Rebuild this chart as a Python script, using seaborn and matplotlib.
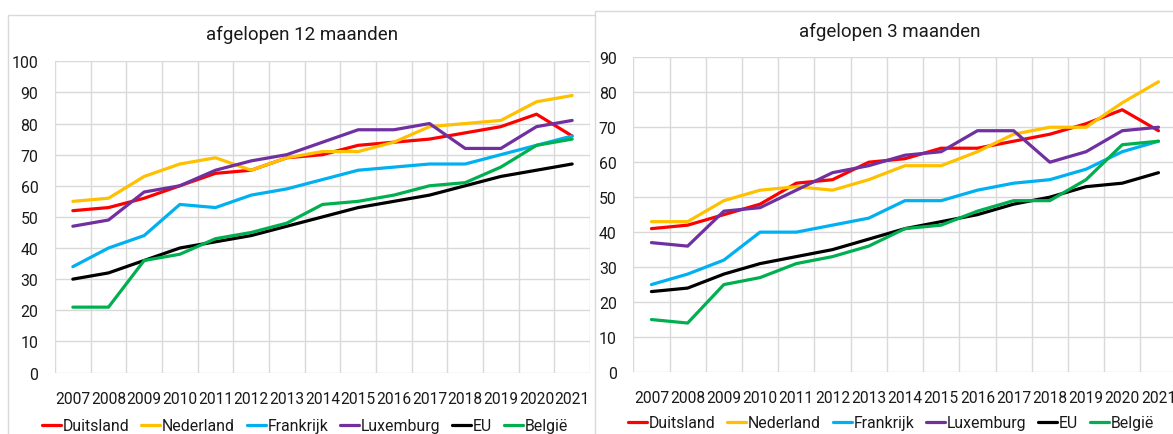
import numpy as np
import pandas as pd
import matplotlib.pyplot as plt
import seaborn as sns
from matplotlib.patches import Rectangle

years = ['2007', '2008', '2009', '2010', '2011', '2012', '2013', '2014',
         '2015', '2016', '2017', '2018', '2019', '2020', '2021']
countries = ['Duitsland', 'Nederland', 'Frankrijk', 'Luxemburg', 'EU', 'België']
colors = ['#FF0000', '#FFC000', '#00B0F0', '#7030A0', '#000000', '#00B050']

# afgelopen 12 maanden
duitsland_12 = [52, 53, 56, 60, 64, 65, 69, 70, 73, 74, 75, 77, 79, 83, 76]
nederland_12 = [55, 56, 63, 67, 69, 65, 69, 71, 71, 74, 79, 80, 81, 87, 89]
frankrijk_12 = [34, 40, 44, 54, 53, 57, 59, 62, 65, 66, 67, 67, 70, 73, 76]
luxemburg_12 = [47, 49, 58, 60, 65, 68, 70, 74, 78, 78, 80, 72, 72, 79, 81]
eu_12 = [30, 32, 36, 40, 42, 44, 47, 50, 53, 55, 57, 60, 63, 65, 67]
belgie_12 = [21, 21, 36, 38, 43, 45, 48, 54, 55, 57, 60, 61, 66, 73, 75]

# afgelopen 3 maanden
duitsland_3 = [41, 42, 45, 48, 54, 55, 60, 61, 64, 64, 66, 68, 71, 75, 69]
nederland_3 = [43, 43, 49, 52, 53, 52, 55, 59, 59, 63, 68, 70, 70, 77, 83]
frankrijk_3 = [25, 28, 32, 40, 40, 42, 44, 49, 49, 52, 54, 55, 58, 63, 66]
luxemburg_3 = [37, 36, 46, 47, 52, 57, 59, 62, 63, 69, 69, 60, 63, 69, 70]
eu_3 = [23, 24, 28, 31, 33, 35, 38, 41, 43, 45, 48, 50, 53, 54, 57]
belgie_3 = [15, 14, 25, 27, 31, 33, 36, 41, 42, 46, 49, 49, 55, 65, 66]

sns.set_theme(style='white')
plt.rcParams['font.family'] = ['Roboto', 'DejaVu Sans']

W, H = 1173, 435
fig = plt.figure(figsize=(W / 100, H / 100), dpi=100)
txt = '#1a1a1a'
grid = '#d9d9d9'

# chart area borders
fig.add_artist(Rectangle((7.7 / W, -0.1), (597 - 7.7) / W, 1.1 - 15.7 / H,
                         transform=fig.transFigure, fill=False, ec=grid, lw=1, zorder=-2))
fig.add_artist(Rectangle((594.5 / W, -0.1), 0.6, 1.1 - 12 / H,
                         transform=fig.transFigure, fc='white', ec=grid, lw=1, zorder=-1))


def draw(rect, series, ymax, title, title_xy, legend_xy):
    ax = fig.add_axes(rect)
    ax.set_facecolor('none')
    df = pd.DataFrame({'jaar': years, **dict(zip(countries, series))})
    df = df.melt(id_vars='jaar', var_name='land', value_name='waarde')
    sns.lineplot(data=df, x='jaar', y='waarde', hue='land', hue_order=countries,
                 palette=dict(zip(countries, colors)), linewidth=2.3, sort=False, ax=ax)
    ax.set_xlim(-0.5, len(years) - 0.5)
    ax.set_ylim(0, ymax)
    ax.set_yticks(range(0, ymax + 1, 10))
    ax.set_xticks(np.arange(-0.5, len(years), 1), minor=True)
    ax.grid(axis='x', which='minor', color=grid, lw=1)
    ax.grid(axis='y', which='major', color=grid, lw=1)
    ax.grid(axis='x', which='major', visible=False)
    ax.set_axisbelow(True)
    ax.tick_params(which='both', length=0, labelsize=11.4, colors=txt)
    ax.tick_params(axis='x', labelsize=11.2, pad=13)
    ax.tick_params(axis='y', pad=12)
    for s in ax.spines.values():
        s.set_visible(False)
    ax.set_xlabel('')
    ax.set_ylabel('')
    fig.text(title_xy[0] / W, 1 - title_xy[1] / H, title, ha='center', va='center',
             fontsize=13.5, color=txt)
    ax.legend(loc='center', bbox_to_anchor=(legend_xy[0] / W, 1 - legend_xy[1] / H),
              bbox_transform=fig.transFigure, ncol=6, frameon=False, fontsize=11.4,
              handlelength=1.2, handletextpad=0.1, columnspacing=0.75, borderaxespad=0,
              labelcolor=txt)
    return ax


draw([55 / W, 1 - 373.5 / H, 535 / W, 311.2 / H],
     [duitsland_12, nederland_12, frankrijk_12, luxemburg_12, eu_12, belgie_12],
     100, 'afgelopen 12 maanden', (302, 35), (305, 427))
draw([633.3 / W, 1 - 373 / H, 543.3 / W, 314.7 / H],
     [duitsland_3, nederland_3, frankrijk_3, luxemburg_3, eu_3, belgie_3],
     90, 'afgelopen 3 maanden', (890, 32), (891, 424))

fig.savefig('out.png', dpi=100)
